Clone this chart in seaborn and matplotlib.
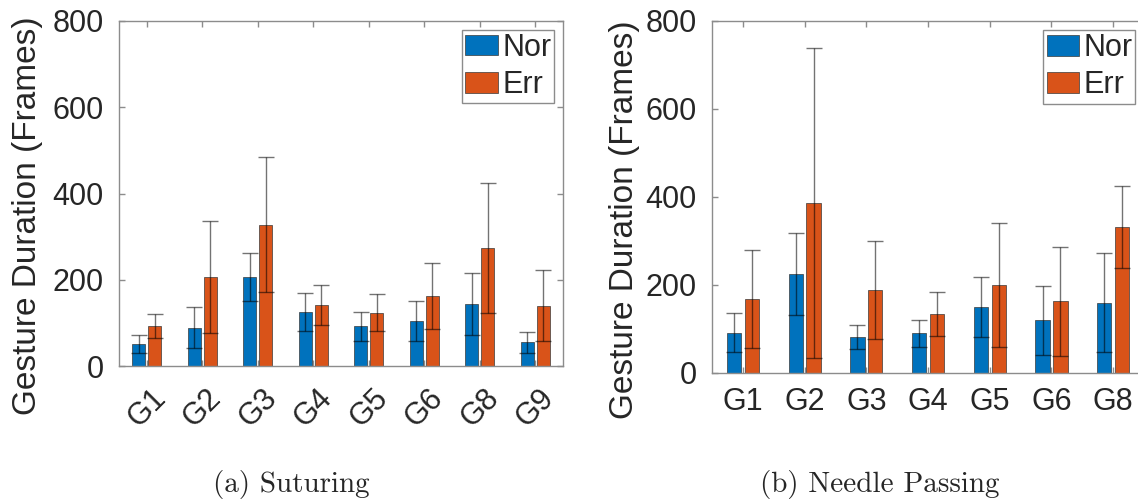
import numpy as np
import pandas as pd
import matplotlib
matplotlib.use('Agg')
import matplotlib.pyplot as plt
import seaborn as sns

# Suturing
sut_gestures = ['G1', 'G2', 'G3', 'G4', 'G5', 'G6', 'G8', 'G9']
sut_nor_mean = [52, 89, 206, 126, 92, 104, 144, 55]
sut_nor_std = [21, 48, 55, 44, 34, 46, 72, 25]
sut_err_mean = [93, 206, 328, 142, 124, 162, 274, 140]
sut_err_std = [27, 130, 157, 46, 43, 76, 150, 82]

# Needle Passing
np_gestures = ['G1', 'G2', 'G3', 'G4', 'G5', 'G6', 'G8']
np_nor_mean = [92, 225, 81, 90, 150, 120, 160]
np_nor_std = [44, 94, 27, 30, 68, 78, 112]
np_err_mean = [168, 387, 189, 134, 199, 163, 332]
np_err_std = [112, 352, 112, 51, 141, 124, 94]

classes = ['Nor', 'Err']
colors = ['#0072BD', '#D95319']
captions = ['(a) Suturing', '(b) Needle Passing']

sns.set_theme(style='white')
plt.rcParams['font.family'] = ['Liberation Sans', 'DejaVu Sans']

fig = plt.figure(figsize=(11.38, 5.0), dpi=100)
ax_l = fig.add_axes([0.1046, 0.268, 0.3902, 0.69])
ax_r = fig.add_axes([0.6257, 0.254, 0.3796, 0.704])

panels = [
    (ax_l, sut_gestures, sut_nor_mean, sut_nor_std, sut_err_mean, sut_err_std),
    (ax_r, np_gestures, np_nor_mean, np_nor_std, np_err_mean, np_err_std),
]
label_x = [-0.172, -0.167]

fs = 22
for i, (ax, gest, nm, ns, em, es) in enumerate(panels):
    df = pd.DataFrame({
        'gesture': gest * 2,
        'cls': ['Nor'] * len(gest) + ['Err'] * len(gest),
        'dur': nm + em,
    })
    sns.barplot(data=df, x='gesture', y='dur', hue='cls', hue_order=classes,
                palette=colors, width=0.58, gap=0.2, errorbar=None,
                edgecolor='#3a3a3a', linewidth=0.5, saturation=1, ax=ax)
    for cont, means, stds in zip(ax.containers, [nm, em], [ns, es]):
        xs = [b.get_x() + b.get_width() / 2 for b in cont]
        ax.errorbar(xs, means, yerr=stds, fmt='none', ecolor='black',
                    alpha=0.55, elinewidth=1, capsize=5.5, capthick=1)

    ax.set_xlim(-0.5, len(gest) - 0.5)
    ax.set_ylim(0, 800)
    ax.set_yticks([0, 200, 400, 600, 800])
    ax.set_xlabel('')
    ax.set_ylabel('Gesture Duration (Frames)', fontsize=24, color='#262626')
    ax.yaxis.set_label_coords(label_x[i], 0.435)
    for sp in ax.spines.values():
        sp.set_visible(True)
        sp.set_color('#8c8c8c')
        sp.set_linewidth(1)
    ax.tick_params(direction='in', length=4, width=1, color='#8c8c8c',
                   top=True, right=True, bottom=True, left=True,
                   labelsize=fs, labelcolor='#262626')
    ax.tick_params(axis='y', pad=11)
    if i == 0:
        ax.tick_params(axis='x', pad=12, labelrotation=45)
    else:
        ax.tick_params(axis='x', pad=10)

    sns.move_legend(ax, 'upper right', bbox_to_anchor=(0.98, 0.975), title=None,
                    frameon=True, fontsize=fs, borderaxespad=0, borderpad=0.1,
                    handlelength=1.07, handleheight=0.67, handletextpad=0.13,
                    labelspacing=0.25, fancybox=False, edgecolor='#8c8c8c',
                    framealpha=1)
    ax.get_legend().get_frame().set_linewidth(1)

fig.text(291 / 1138, 1 - 492 / 500, captions[0], family='cmr10', fontsize=21,
         ha='center', va='baseline')
fig.text(880 / 1138, 1 - 492 / 500, captions[1], family='cmr10', fontsize=21,
         ha='center', va='baseline')

fig.savefig('out.png', dpi=100)
